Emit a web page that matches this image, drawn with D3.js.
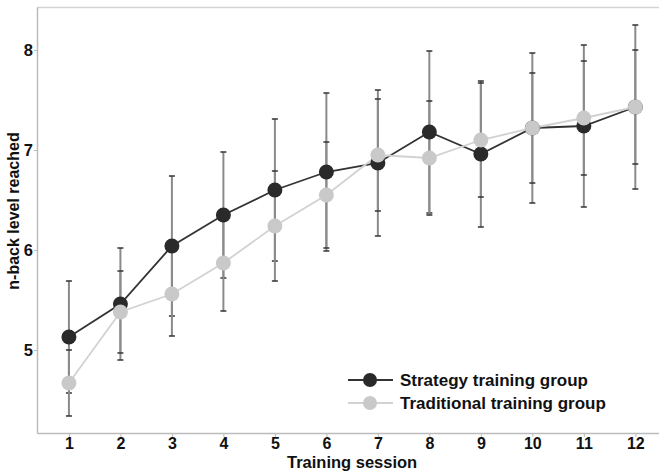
<!DOCTYPE html>
<html>
<head>
<meta charset="utf-8">
<script src="https://cdn.jsdelivr.net/npm/d3@7"></script>
<style>
  body { margin: 0; background: #fff; }
  svg { display: block; font-family: "Liberation Sans", Arial, sans-serif; }
</style>
</head>
<body>
<div id="chart"></div>
<script>
// data
var sessions = [1, 2, 3, 4, 5, 6, 7, 8, 9, 10, 11, 12];
var strategyMean = [5.13, 5.46, 6.04, 6.35, 6.60, 6.78, 6.87, 7.18, 6.96, 7.22, 7.24, 7.43];
var strategyErr  = [0.56, 0.56, 0.70, 0.63, 0.71, 0.79, 0.73, 0.81, 0.73, 0.75, 0.81, 0.82];
var traditionalMean = [4.67, 5.38, 5.56, 5.87, 6.24, 6.55, 6.95, 6.92, 7.10, 7.22, 7.32, 7.43];
var traditionalErr  = [0.33, 0.41, 0.42, 0.48, 0.55, 0.53, 0.56, 0.57, 0.57, 0.55, 0.57, 0.57];
var yTicks = [5, 6, 7, 8];
var seriesNames = ["Strategy training group", "Traditional training group"];

var width = 659, height = 472;
// plot area edges ("top" is taken by window.top, so other names)
var pLeft = 37, pRight = 659, pTop = 7, pBottom = 433;

var svg = d3.select("#chart").append("svg")
  .attr("width", width)
  .attr("height", height);

var x = d3.scaleLinear().domain([0.38, 12.46]).range([pLeft, pRight]);
var y = d3.scaleLinear().domain([4.17, 8.43]).range([pBottom, pTop]);

// panel border top, light grey
svg.append("line").attr("x1", pLeft).attr("x2", pRight).attr("y1", pTop + 0.5).attr("y2", pTop + 0.5)
  .attr("stroke", "#d4d4d4").attr("stroke-width", 1.5);

// axes
var xAxis = svg.append("g")
  .attr("transform", "translate(0," + pBottom + ")")
  .call(d3.axisBottom(x).tickValues(sessions).tickSize(4).tickSizeOuter(0).tickPadding(1));
var yAxis = svg.append("g")
  .attr("transform", "translate(" + pLeft + ",0)")
  .call(d3.axisLeft(y).tickValues(yTicks).tickSize(3).tickSizeOuter(0).tickPadding(1).tickFormat(d3.format("d")));

[xAxis, yAxis].forEach(function(g) {
  g.select(".domain").attr("stroke", "#bcbcbc").attr("stroke-width", 1.5);
  g.selectAll(".tick line").attr("stroke", "#bcbcbc");
  g.selectAll(".tick text")
    .attr("fill", "#111")
    .style("font-size", "16.5px")
    .style("font-weight", "bold")
    .style("font-family", "'Liberation Sans', Arial, sans-serif");
});
xAxis.selectAll(".tick text").style("font-size", "16px");
yAxis.selectAll(".tick text").attr("dy", "0.35em");

// axis titles
svg.append("text")
  .attr("x", x(6.5))
  .attr("y", 468)
  .attr("text-anchor", "middle")
  .style("font-size", "16.5px")
  .style("font-weight", "bold")
  .attr("fill", "#111")
  .text("Training session");

svg.append("text")
  .attr("transform", "translate(13,211) rotate(-90)")
  .attr("text-anchor", "middle")
  .attr("dy", "0.35em")
  .style("font-size", "16px")
  .style("font-weight", "bold")
  .attr("fill", "#111")
  .text("n-back level reached");

var series = [
  { name: seriesNames[0], mean: strategyMean, err: strategyErr, line: "#333333", fill: "#2a2a2a" },
  { name: seriesNames[1], mean: traditionalMean, err: traditionalErr, line: "#d2d2d2", fill: "#c9c9c9" }
];

// error bars (drawn first, under the points)
series.forEach(function(s) {
  var g = svg.append("g");
  sessions.forEach(function(d, i) {
    var hi = y(s.mean[i] + s.err[i]), lo = y(s.mean[i] - s.err[i]);
    g.append("line")
      .attr("x1", x(d)).attr("x2", x(d))
      .attr("y1", hi).attr("y2", lo)
      .attr("stroke", "#8a8a8a").attr("stroke-width", 2);
    [hi, lo].forEach(function(v) {
      g.append("line")
        .attr("x1", x(d) - 3).attr("x2", x(d) + 3)
        .attr("y1", v).attr("y2", v)
        .attr("stroke", "#333").attr("stroke-width", 1.5);
    });
  });
});

// lines and points
var line = d3.line()
  .x(function(d, i) { return x(sessions[i]); })
  .y(function(d) { return y(d); });

series.forEach(function(s) {
  svg.append("path")
    .datum(s.mean)
    .attr("d", line)
    .attr("fill", "none")
    .attr("stroke", s.line)
    .attr("stroke-width", 1.8);
});
series.forEach(function(s) {
  svg.append("g").selectAll("circle")
    .data(s.mean)
    .enter().append("circle")
    .attr("cx", function(d, i) { return x(sessions[i]); })
    .attr("cy", function(d) { return y(d); })
    .attr("r", 7.5)
    .attr("fill", s.fill);
});

// legend
var legend = svg.append("g").attr("transform", "translate(348,380)");
series.forEach(function(s, i) {
  var row = legend.append("g").attr("transform", "translate(0," + (i * 23) + ")");
  row.append("line").attr("x1", 0).attr("x2", 45).attr("y1", 0).attr("y2", 0)
    .attr("stroke", s.line).attr("stroke-width", 1.8);
  row.append("circle").attr("cx", 22).attr("cy", 0).attr("r", 7).attr("fill", s.fill);
  row.append("text")
    .attr("x", 52).attr("y", 0).attr("dy", "0.35em")
    .style("font-size", "17px")
    .style("font-weight", "bold")
    .attr("fill", "#111")
    .text(s.name);
});
</script>
</body>
</html>
